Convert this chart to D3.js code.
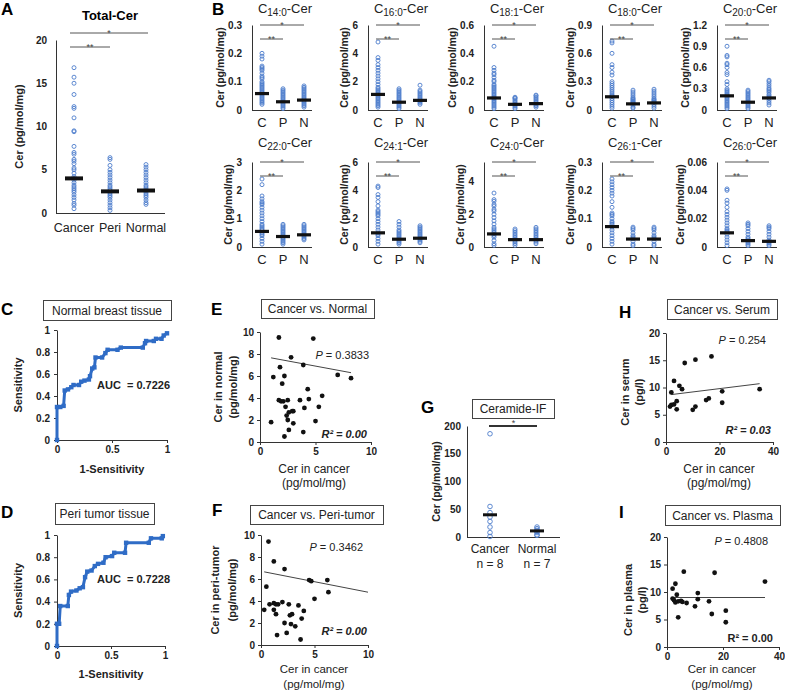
<!DOCTYPE html>
<html>
<head>
<meta charset="utf-8">
<script src="https://cdn.jsdelivr.net/npm/d3@7"></script>
<style>
  body { margin: 0; background: #fff; }
  svg { display: block; font-family: Arial, "Liberation Sans", sans-serif; }
</style>
</head>
<body>
<svg id="fig" width="785" height="692"></svg>
<script>
// ---------- data ----------
const totalGroups = ['Cancer', 'Peri', 'Normal'];
const totalCancer = [16.8, 15.7, 15.0, 13.7, 12.3, 12.1, 11.0, 9.5, 9.4, 7.7, 7.0, 6.8, 6.2, 6.0, 5.7, 5.2, 5.0, 4.6, 4.2, 4.0, 3.8, 3.5, 3.2, 3.0, 2.8, 2.6, 2.4, 2.1, 1.8, 1.5, 1.1, 0.9, 0.5];
const totalPeri = [6.4, 6.2, 5.5, 5.0, 4.7, 4.4, 4.1, 3.8, 3.5, 3.2, 3.0, 2.8, 2.6, 2.4, 2.2, 2.0, 1.8, 1.5, 1.2, 0.9, 0.6, 0.3];
const totalNormal = [5.6, 5.3, 5.0, 4.7, 4.4, 4.1, 3.8, 3.5, 3.2, 3.0, 2.8, 2.6, 2.4, 2.2, 2.0, 1.8, 1.5, 1.2, 1.0];
const totalMeans = [4.0, 2.5, 2.6];
const totalTicks = [0, 5, 10, 15, 20];

const lipidGroups = ['C', 'P', 'N'];
const lipidSubs = ['14:0', '16:0', '18:1', '18:0', '20:0', '22:0', '24:1', '24:0', '26:1', '26:0'];
const lipidMax = [0.3, 6, 0.6, 0.9, 1.2, 3, 6, 5.2, 0.3, 0.06];
const lipidTicks = [
  [0, 0.1, 0.2, 0.3], [0, 2, 4, 6], [0, 0.2, 0.4, 0.6], [0, 0.3, 0.6, 0.9], [0, 0.3, 0.6, 0.9, 1.2],
  [0, 1, 2, 3], [0, 2, 4, 6], [0, 2, 4], [0, 0.1, 0.2, 0.3], [0, 0.02, 0.04, 0.06]
];
const c14_0 = [
  [0.20, 0.19, 0.18, 0.155, 0.15, 0.145, 0.14, 0.13, 0.12, 0.115, 0.11, 0.10, 0.095, 0.09, 0.085, 0.08, 0.075, 0.07, 0.065, 0.06, 0.055, 0.05, 0.045, 0.04, 0.035, 0.03, 0.025, 0.02],
  [0.075, 0.07, 0.065, 0.06, 0.055, 0.05, 0.045, 0.04, 0.035, 0.03, 0.025, 0.02, 0.015, 0.01, 0.005],
  [0.085, 0.08, 0.075, 0.07, 0.065, 0.06, 0.055, 0.05, 0.045, 0.04, 0.035, 0.03, 0.025, 0.02, 0.015, 0.01]
];
const c16_0 = [
  [4.8, 3.7, 3.5, 3.2, 3.0, 2.8, 2.6, 2.4, 2.2, 2.0, 1.8, 1.6, 1.5, 1.4, 1.3, 1.2, 1.1, 1.0, 0.9, 0.8, 0.7, 0.6, 0.5, 0.4, 0.3, 0.2],
  [1.5, 1.4, 1.3, 1.2, 1.1, 1.0, 0.9, 0.8, 0.7, 0.6, 0.5, 0.4, 0.3, 0.2, 0.1],
  [1.75, 1.4, 1.3, 1.2, 1.1, 1.0, 0.9, 0.8, 0.7, 0.6, 0.5, 0.4]
];
const c18_1 = [
  [0.45, 0.30, 0.28, 0.26, 0.25, 0.23, 0.21, 0.20, 0.18, 0.17, 0.16, 0.15, 0.14, 0.13, 0.12, 0.11, 0.10, 0.09, 0.08, 0.07, 0.06, 0.05, 0.04, 0.03, 0.02, 0.01],
  [0.09, 0.085, 0.08, 0.07, 0.06, 0.05, 0.04, 0.03, 0.02, 0.01],
  [0.105, 0.10, 0.09, 0.08, 0.07, 0.06, 0.05, 0.04, 0.03, 0.02]
];
const c18_0 = [
  [0.73, 0.71, 0.60, 0.48, 0.45, 0.40, 0.37, 0.30, 0.28, 0.26, 0.24, 0.22, 0.20, 0.18, 0.16, 0.15, 0.14, 0.12, 0.10, 0.08, 0.06, 0.04, 0.02],
  [0.21, 0.19, 0.17, 0.15, 0.13, 0.12, 0.11, 0.10, 0.09, 0.08, 0.07, 0.05, 0.03, 0.02],
  [0.22, 0.20, 0.18, 0.16, 0.14, 0.12, 0.11, 0.10, 0.09, 0.08, 0.06, 0.04, 0.02]
];
const c20_0 = [
  [0.90, 0.77, 0.75, 0.66, 0.64, 0.60, 0.53, 0.50, 0.40, 0.36, 0.30, 0.28, 0.26, 0.24, 0.22, 0.20, 0.18, 0.16, 0.14, 0.12, 0.10, 0.08, 0.06, 0.04, 0.02],
  [0.28, 0.26, 0.24, 0.22, 0.20, 0.18, 0.16, 0.14, 0.12, 0.10, 0.08, 0.06, 0.04, 0.02],
  [0.42, 0.40, 0.37, 0.34, 0.31, 0.29, 0.27, 0.25, 0.22, 0.20, 0.18, 0.16, 0.13, 0.10, 0.07]
];
const c22_0 = [
  [2.4, 2.2, 1.8, 1.7, 1.6, 1.55, 1.5, 1.4, 1.3, 1.2, 1.1, 1.0, 0.9, 0.8, 0.75, 0.7, 0.65, 0.6, 0.5, 0.45, 0.4, 0.3, 0.2, 0.1],
  [0.8, 0.75, 0.7, 0.65, 0.6, 0.55, 0.5, 0.45, 0.4, 0.35, 0.3, 0.25, 0.2, 0.15, 0.1],
  [0.8, 0.75, 0.7, 0.65, 0.6, 0.55, 0.5, 0.45, 0.4, 0.35, 0.3, 0.25]
];
const c24_1 = [
  [4.3, 4.2, 3.7, 3.5, 3.2, 2.9, 2.6, 2.5, 2.4, 2.3, 2.2, 2.0, 1.8, 1.6, 1.4, 1.2, 1.0, 0.9, 0.8, 0.6, 0.4, 0.2],
  [1.8, 1.6, 1.4, 1.2, 1.1, 1.0, 0.9, 0.8, 0.7, 0.6, 0.5, 0.4, 0.3, 0.2],
  [1.5, 1.4, 1.3, 1.2, 1.1, 1.0, 0.9, 0.8, 0.7, 0.6, 0.5, 0.4, 0.3]
];
const c24_0 = [
  [3.3, 2.9, 2.8, 2.6, 2.5, 2.3, 2.2, 2.0, 1.8, 1.6, 1.4, 1.2, 1.1, 1.0, 0.9, 0.8, 0.7, 0.6, 0.4, 0.2, 0.1],
  [1.1, 1.0, 0.9, 0.8, 0.7, 0.6, 0.5, 0.4, 0.3, 0.2, 0.1],
  [1.2, 1.1, 1.0, 0.9, 0.8, 0.7, 0.6, 0.5, 0.4, 0.3, 0.2]
];
const c26_1 = [
  [0.24, 0.23, 0.22, 0.21, 0.20, 0.19, 0.18, 0.16, 0.14, 0.12, 0.115, 0.11, 0.10, 0.09, 0.085, 0.08, 0.07, 0.06, 0.05, 0.04, 0.03, 0.02, 0.01],
  [0.07, 0.065, 0.06, 0.05, 0.04, 0.035, 0.03, 0.02, 0.01, 0.005],
  [0.07, 0.065, 0.06, 0.05, 0.04, 0.035, 0.03, 0.02, 0.01, 0.005]
];
const c26_0 = [
  [0.041, 0.040, 0.033, 0.031, 0.028, 0.025, 0.023, 0.021, 0.019, 0.017, 0.015, 0.013, 0.012, 0.011, 0.009, 0.007, 0.005, 0.003, 0.001],
  [0.017, 0.016, 0.015, 0.013, 0.011, 0.009, 0.007, 0.006, 0.005, 0.004, 0.003, 0.002, 0.001],
  [0.015, 0.014, 0.013, 0.011, 0.009, 0.007, 0.005, 0.004, 0.003, 0.002, 0.001]
];
const lipidValues = [c14_0, c16_0, c18_1, c18_0, c20_0, c22_0, c24_1, c24_0, c26_1, c26_0];
const lipidMeans = [
  [0.058, 0.029, 0.035], [1.1, 0.55, 0.68], [0.085, 0.04, 0.045], [0.14, 0.065, 0.075], [0.2, 0.11, 0.17],
  [0.55, 0.37, 0.43], [1.0, 0.55, 0.62], [0.8, 0.45, 0.45], [0.072, 0.028, 0.028], [0.010, 0.0045, 0.004]
];

// ROC curves [1-specificity, sensitivity]
const rocNormal = [[0, 0], [0, 0.3], [0.03, 0.3], [0.06, 0.31], [0.07, 0.45], [0.1, 0.46], [0.13, 0.48], [0.15, 0.5], [0.2, 0.5], [0.22, 0.53], [0.25, 0.54], [0.29, 0.55], [0.3, 0.58], [0.32, 0.65], [0.34, 0.66], [0.35, 0.75], [0.41, 0.75], [0.44, 0.79], [0.46, 0.82], [0.55, 0.82], [0.58, 0.84], [0.78, 0.84], [0.8, 0.88], [0.81, 0.9], [0.88, 0.9], [0.9, 0.92], [0.95, 0.92], [0.97, 0.95], [1, 0.97]];
const rocPeri = [[0, 0], [0, 0.2], [0.02, 0.2], [0.03, 0.36], [0.1, 0.36], [0.11, 0.46], [0.13, 0.49], [0.18, 0.5], [0.21, 0.52], [0.24, 0.53], [0.26, 0.62], [0.28, 0.67], [0.32, 0.68], [0.35, 0.72], [0.38, 0.74], [0.43, 0.75], [0.45, 0.8], [0.51, 0.81], [0.53, 0.84], [0.63, 0.84], [0.64, 0.93], [0.85, 0.93], [0.87, 0.97], [0.97, 0.97], [0.98, 0.99]];
const rocTicksY = [0, 0.2, 0.4, 0.6, 0.8, 1];
const rocTicksX = [0, 0.5, 1];

// scatter panels [cancer, other]
const vsNormal = [[1.7, 9.5], [4.8, 9.4], [2.8, 7.7], [3.9, 7.0], [1.8, 6.8], [1.2, 5.9], [2.2, 6.0], [2.0, 5.3], [7.0, 6.1], [8.2, 5.8], [4.3, 4.8], [5.6, 4.2], [1.7, 3.8], [1.9, 3.7], [2.1, 3.7], [2.5, 3.8], [3.6, 3.8], [4.4, 3.9], [5.3, 3.2], [2.3, 3.2], [2.6, 2.7], [2.9, 2.8], [3.0, 2.8], [4.0, 3.1], [2.4, 2.4], [2.5, 2.0], [1.0, 1.8], [3.0, 1.7], [5.0, 1.9], [2.6, 1.1], [3.9, 0.9], [2.2, 0.5]];
const vsNormalTrend = [[1.0, 7.65], [8.2, 6.3]];
const vsPeri = [[0.7, 9.4], [1.2, 7.6], [2.2, 6.9], [0.5, 5.3], [4.5, 5.9], [4.7, 5.8], [6.2, 5.9], [6.3, 4.8], [5.0, 4.2], [0.3, 3.2], [0.8, 3.7], [1.2, 3.8], [1.4, 3.7], [1.6, 3.7], [2.0, 3.9], [2.6, 3.7], [1.2, 3.2], [1.4, 2.8], [3.5, 3.6], [4.0, 3.1], [2.7, 2.7], [2.9, 2.8], [3.8, 2.4], [2.2, 2.0], [2.8, 1.9], [3.2, 1.7], [1.5, 0.9], [2.4, 1.1], [3.7, 0.5]];
const vsPeriTrend = [[0.3, 6.65], [10, 4.8]];
const vsSerum = [[2, 9.1], [3, 11.2], [5, 10.3], [6, 9.7], [7, 14.5], [11, 15.1], [17, 15.7], [1.5, 6.5], [2, 6.8], [3, 6.9], [4, 7.5], [4, 6.0], [10, 5.9], [11, 6.5], [15, 7.7], [16, 8.0], [21, 9.3], [21, 7.2], [35, 9.7]];
const vsSerumTrend = [[2, 8.7], [35, 10.7]];
const vsPlasma = [[2, 10.6], [3, 11.5], [2, 8.8], [2.5, 8.5], [3, 8.1], [3.5, 9.5], [4, 8.3], [4, 5.4], [5, 8.4], [5.5, 8.2], [6, 13.7], [7, 8.0], [10, 7.4], [11, 9.8], [11, 8.7], [15, 8.3], [16, 6.0], [17, 13.5], [21, 4.5], [21, 6.6], [35, 11.9]];
const vsPlasmaTrend = [[2, 9], [35, 9]];

// ceramide immunofluorescence
const ifGroups = ['Cancer', 'Normal'];
const ifCounts = ['n = 8', 'n = 7'];
const ifCancer = [186, 55, 44, 36, 28, 18, 8, 1];
const ifNormal = [18, 15, 12, 10, 8, 4, 3];
const ifMeans = [40, 11];
const ifTicks = [0, 50, 100, 150, 200];

// ---------- drawing ----------
const svg = d3.select('#fig');
const dotColor = '#4d7dcc';
const rocColor = '#2f6cc6';

function styleAxis(sel, size) {
  sel.attr('font-family', null).attr('font-size', null);
  sel.select('.domain').attr('stroke', '#333');
  sel.selectAll('.tick line').attr('stroke', '#333');
  sel.selectAll('.tick text').attr('fill', '#222')
    .style('font-size', (size || 10) + 'px').style('font-weight', 'bold');
}

function letter(t, x, y) {
  svg.append('text').attr('x', x).attr('y', y).text(t)
    .style('font-size', '17px').style('font-weight', 'bold');
}

function boxTitle(t, x, y, w, h) {
  svg.append('rect').attr('x', x + 0.5).attr('y', y + 0.5).attr('width', w).attr('height', h)
    .attr('fill', '#fff').attr('stroke', '#444');
  svg.append('text').attr('x', x + w / 2).attr('y', y + h / 2 + 4.5)
    .attr('text-anchor', 'middle').style('font-size', '12px').attr('fill', '#222').text(t);
}

function bracket(g, x1, x2, yLine, label) {
  g.append('line').attr('x1', x1).attr('x2', x2).attr('y1', yLine).attr('y2', yLine)
    .attr('stroke', '#555').attr('stroke-width', 1);
  g.append('text').attr('x', (x1 + x2) / 2).attr('y', yLine + 3)
    .attr('text-anchor', 'middle').style('font-size', '9px').attr('fill', '#444').text(label);
}

function dotPlot(o) {
  const y = d3.scaleLinear().domain([0, o.max]).range([o.bottom, o.top]);
  const x = d3.scalePoint().domain(o.cats).range(o.catRange);
  const g = svg.append('g');
  const ya = g.append('g').attr('transform', `translate(${o.axisX},0)`)
    .call(d3.axisLeft(y).tickValues(o.ticks).tickSize(0).tickSizeOuter(0).tickPadding(o.pad).tickFormat(d => String(d)));
  styleAxis(ya);
  g.append('line').attr('x1', o.axisX).attr('x2', o.xEnd)
    .attr('y1', o.bottom + 0.5).attr('y2', o.bottom + 0.5).attr('stroke', '#333');

  g.selectAll(null).data(o.cats).join('text')
    .attr('x', d => x(d)).attr('y', o.labelY).attr('text-anchor', 'middle')
    .style('font-size', o.catSize + 'px').attr('fill', '#222').text(d => d);

  o.groups.forEach((vals, i) => {
    g.selectAll(null).data(vals).join('circle')
      .attr('cx', x(o.cats[i])).attr('cy', d => y(d)).attr('r', o.r)
      .attr('fill', 'none').attr('stroke', dotColor).attr('stroke-width', 0.9);
  });

  g.selectAll(null).data(o.means).join('rect')
    .attr('x', (d, i) => x(o.cats[i]) - o.barW / 2).attr('y', d => y(d) - o.barH / 2)
    .attr('width', o.barW).attr('height', o.barH).attr('fill', '#111');

  const bb = ya.node().getBBox();
  const lx = o.yLabelX != null ? o.yLabelX : o.axisX + bb.x - 4;
  g.append('text').attr('transform', `translate(${lx},${(o.top + o.bottom) / 2}) rotate(-90)`)
    .attr('text-anchor', 'middle').style('font-size', o.yLabelSize + 'px').style('font-weight', 'bold')
    .attr('fill', '#222').text('Cer (pg/mol/mg)');
  return { x, y, g };
}

function rocPlot(o) {
  const x = d3.scaleLinear().domain([0, 1]).range([o.left, o.right]);
  const y = d3.scaleLinear().domain([0, 1]).range([o.bottom, o.top]);
  const g = svg.append('g');
  const xa = g.append('g').attr('transform', `translate(0,${o.bottom})`)
    .call(d3.axisBottom(x).tickValues(rocTicksX).tickSize(3).tickSizeOuter(0).tickPadding(3).tickFormat(d => String(d)));
  const ya = g.append('g').attr('transform', `translate(${o.left},0)`)
    .call(d3.axisLeft(y).tickValues(rocTicksY).tickSize(3).tickSizeOuter(0).tickPadding(4).tickFormat(d => String(d)));
  styleAxis(xa); styleAxis(ya);
  g.append('path').datum(o.pts)
    .attr('d', d3.line().x(d => x(d[0])).y(d => y(d[1])))
    .attr('fill', 'none').attr('stroke', rocColor).attr('stroke-width', 3).attr('stroke-linejoin', 'miter');
  g.selectAll(null).data(o.pts).join('rect')
    .attr('x', d => x(d[0]) - 2.2).attr('y', d => y(d[1]) - 2.2).attr('width', 4.4).attr('height', 4.4)
    .attr('fill', rocColor);
  g.append('text').attr('x', o.aucX).attr('y', o.aucY).style('font-size', '11px').style('font-weight', 'bold')
    .attr('fill', '#222').style('white-space', 'pre').text(o.auc);
  g.append('text').attr('x', (o.left + o.right) / 2).attr('y', o.xLabY).attr('text-anchor', 'middle')
    .style('font-size', '11px').style('font-weight', 'bold').attr('fill', '#222').text('1-Sensitivity');
  g.append('text').attr('transform', `translate(22,${(o.top + o.bottom) / 2}) rotate(-90)`)
    .attr('text-anchor', 'middle').style('font-size', '11px').style('font-weight', 'bold')
    .attr('fill', '#222').text('Sensitivity');
}

function scatterPlot(o) {
  const x = d3.scaleLinear().domain(o.xDom).range([o.left, o.right]);
  const y = d3.scaleLinear().domain(o.yDom).range([o.bottom, o.top]);
  const g = svg.append('g');
  const xa = g.append('g').attr('transform', `translate(0,${o.bottom})`)
    .call(d3.axisBottom(x).tickValues(o.xTicks).tickSize(3).tickSizeOuter(0).tickPadding(3));
  const ya = g.append('g').attr('transform', `translate(${o.left},0)`)
    .call(d3.axisLeft(y).tickValues(o.yTicks).tickSize(3).tickSizeOuter(0).tickPadding(3));
  styleAxis(xa); styleAxis(ya);
  g.append('line')
    .attr('x1', x(o.trend[0][0])).attr('y1', y(o.trend[0][1]))
    .attr('x2', x(o.trend[1][0])).attr('y2', y(o.trend[1][1]))
    .attr('stroke', '#444').attr('stroke-width', 1);
  g.selectAll(null).data(o.pts).join('circle')
    .attr('cx', d => x(d[0])).attr('cy', d => y(d[1])).attr('r', 2.4).attr('fill', '#111');

  const p = g.append('text').attr('x', o.pX).attr('y', o.pY).attr('text-anchor', 'end')
    .style('font-size', '11px').attr('fill', '#222');
  p.append('tspan').style('font-style', 'italic').text('P');
  p.append('tspan').text(' = ' + o.pVal);
  g.append('text').attr('x', o.rX).attr('y', o.rY).attr('text-anchor', 'end')
    .style('font-size', '11px').style('font-weight', 'bold')
    .style('font-style', o.rItalic ? 'italic' : 'normal').attr('fill', '#222')
    .text('R\u00B2 = ' + o.rVal);

  o.yLab.forEach((t, i) => {
    g.append('text').attr('transform', `translate(${o.yLabX[i]},${o.yLabY}) rotate(-90)`)
      .attr('text-anchor', 'middle').style('font-size', '11px').style('font-weight', 'bold')
      .attr('fill', '#222').text(t);
  });
  o.xLab.forEach((t, i) => {
    g.append('text').attr('x', o.xLabX).attr('y', o.xLabY[i]).attr('text-anchor', 'middle')
      .style('font-size', (o.xLabSize || 12) + 'px').attr('fill', '#222').text(t);
  });
}

// ---- A
letter('A', 1, 15);
svg.append('text').attr('x', 110).attr('y', 20).attr('text-anchor', 'middle')
  .style('font-size', '13px').style('font-weight', 'bold').text('Total-Cer');
const pa = dotPlot({
  axisX: 56, xEnd: 165, top: 40, bottom: 213, max: 20, ticks: totalTicks,
  cats: totalGroups, catRange: [74, 146], groups: [totalCancer, totalPeri, totalNormal],
  means: totalMeans, barW: 18, barH: 4, r: 2, pad: 9, labelY: 232, catSize: 12.5,
  yLabelX: 23, yLabelSize: 11
});
bracket(pa.g, pa.x('Cancer') - 4, pa.x('Normal') + 2, 33, '*');
bracket(pa.g, pa.x('Cancer') - 4, pa.x('Peri'), 47, '**');

// ---- B
letter('B', 212, 15);
const bAxisX = [252, 368, 484, 602, 717];
const bTop = [25, 162];
const bBottom = [110, 247];
const bTitleY = [13, 147];
lipidSubs.forEach((sub, i) => {
  const row = i < 5 ? 0 : 1;
  const ax = bAxisX[i % 5];
  const t = svg.append('text').attr('x', ax + 33).attr('y', bTitleY[row])
    .attr('text-anchor', 'middle').style('font-size', '13px').attr('fill', '#222');
  t.append('tspan').text('C');
  t.append('tspan').attr('dy', 2.5).style('font-size', '10px').text(sub);
  t.append('tspan').attr('dy', -2.5).text('-Cer');
  const p = dotPlot({
    axisX: ax, xEnd: ax + 60, top: bTop[row], bottom: bBottom[row], max: lipidMax[i],
    ticks: lipidTicks[i], cats: lipidGroups, catRange: [ax + 10, ax + 52],
    groups: lipidValues[i], means: lipidMeans[i], barW: 14, barH: 3.2, r: 2, pad: 10,
    labelY: bBottom[row] + 17, catSize: 13, yLabelSize: 10.5
  });
  bracket(p.g, p.x('C') - 2, p.x('N'), bTop[row], '*');
  bracket(p.g, p.x('C') - 2, p.x('P'), bTop[row] + 14, '**');
});

// ---- C, D
letter('C', 1, 315);
boxTitle('Normal breast tissue', 43, 300, 128, 20);
rocPlot({ left: 57, right: 167, top: 330, bottom: 440, pts: rocNormal,
  auc: 'AUC  = 0.7226', aucX: 97, aucY: 389, xLabY: 473 });
letter('D', 1, 518);
boxTitle('Peri tumor tissue', 55, 503, 99, 21);
rocPlot({ left: 57, right: 165, top: 535, bottom: 646, pts: rocPeri,
  auc: 'AUC  = 0.7228', aucX: 97, aucY: 583, xLabY: 678 });

// ---- E, F
letter('E', 211, 315);
boxTitle('Cancer vs. Normal', 261, 299, 113, 19);
scatterPlot({ left: 260, right: 371, top: 332, bottom: 442, xDom: [0, 10], yDom: [0, 10],
  xTicks: [0, 5, 10], yTicks: [0, 2, 4, 6, 8, 10], pts: vsNormal, trend: vsNormalTrend,
  pVal: '0.3833', pX: 369, pY: 359, rVal: '0.00', rX: 367, rY: 438, rItalic: true,
  yLab: ['Cer in normal', '(pg/mol/mg)'], yLabX: [222, 237], yLabY: 387,
  xLab: ['Cer in cancer', '(pg/mol/mg)'], xLabX: 314, xLabY: [473, 487] });
letter('F', 212, 516);
boxTitle('Cancer vs. Peri-tumor', 250, 505, 133, 19);
scatterPlot({ left: 261, right: 368, top: 535, bottom: 645, xDom: [0, 10], yDom: [0, 10],
  xTicks: [0, 5, 10], yTicks: [0, 2, 4, 6, 8, 10], pts: vsPeri, trend: vsPeriTrend,
  pVal: '0.3462', pX: 363, pY: 551, rVal: '0.00', rX: 367, rY: 635, rItalic: true,
  yLab: ['Cer in peri-tumor', '(pg/mol/mg)'], yLabX: [219, 236], yLabY: 590,
  xLab: ['Cer in cancer', '(pg/mol/mg)'], xLabX: 314, xLabY: [673, 688], xLabSize: 11.5 });

// ---- G
letter('G', 421, 413);
boxTitle('Ceramide-IF', 472, 399, 82, 19);
const pg = dotPlot({
  axisX: 467, xEnd: 560, top: 426, bottom: 537, max: 200, ticks: ifTicks,
  cats: ifGroups, catRange: [490, 537], groups: [ifCancer, ifNormal],
  means: ifMeans, barW: 14, barH: 3, r: 2.3, pad: 6, labelY: 553, catSize: 12, yLabelSize: 10.5
});
pg.g.selectAll(null).data(ifCounts).join('text')
  .attr('x', (d, i) => pg.x(ifGroups[i])).attr('y', 568).attr('text-anchor', 'middle')
  .style('font-size', '12px').attr('fill', '#222').text(d => d);
pg.g.append('line').attr('x1', pg.x('Cancer') - 1).attr('x2', pg.x('Normal'))
  .attr('y1', 426).attr('y2', 426).attr('stroke', '#333').attr('stroke-width', 2);
pg.g.append('text').attr('x', (pg.x('Cancer') + pg.x('Normal')) / 2).attr('y', 426)
  .attr('text-anchor', 'middle').style('font-size', '9px').attr('fill', '#444').text('*');

// ---- H, I
letter('H', 619, 318);
boxTitle('Cancer vs. Serum', 667, 299, 110, 20);
scatterPlot({ left: 666, right: 773, top: 333, bottom: 442, xDom: [0, 40], yDom: [0, 20],
  xTicks: [0, 20, 40], yTicks: [0, 5, 10, 15, 20], pts: vsSerum, trend: vsSerumTrend,
  pVal: '0.254', pX: 766, pY: 344, rVal: '0.03', rX: 771, rY: 434, rItalic: true,
  yLab: ['Cer in serum', '(pg/l)'], yLabX: [629, 643], yLabY: 392,
  xLab: ['Cer in cancer', '(pg/mol/mg)'], xLabX: 719, xLabY: [473, 487] });
letter('I', 619, 518);
boxTitle('Cancer vs. Plasma', 665, 505, 115, 20);
scatterPlot({ left: 667, right: 779, top: 537, bottom: 647, xDom: [0, 40], yDom: [0, 20],
  xTicks: [0, 20, 40], yTicks: [0, 5, 10, 15, 20], pts: vsPlasma, trend: vsPlasmaTrend,
  pVal: '0.4808', pX: 768, pY: 545, rVal: '0.00', rX: 773, rY: 642, rItalic: false,
  yLab: ['Cer in plasma', '(pg/l)'], yLabX: [632, 646], yLabY: 600,
  xLab: ['Cer in cancer', '(pg/mol/mg)'], xLabX: 722, xLabY: [673, 688], xLabSize: 11.5 });
</script>
</body>
</html>
